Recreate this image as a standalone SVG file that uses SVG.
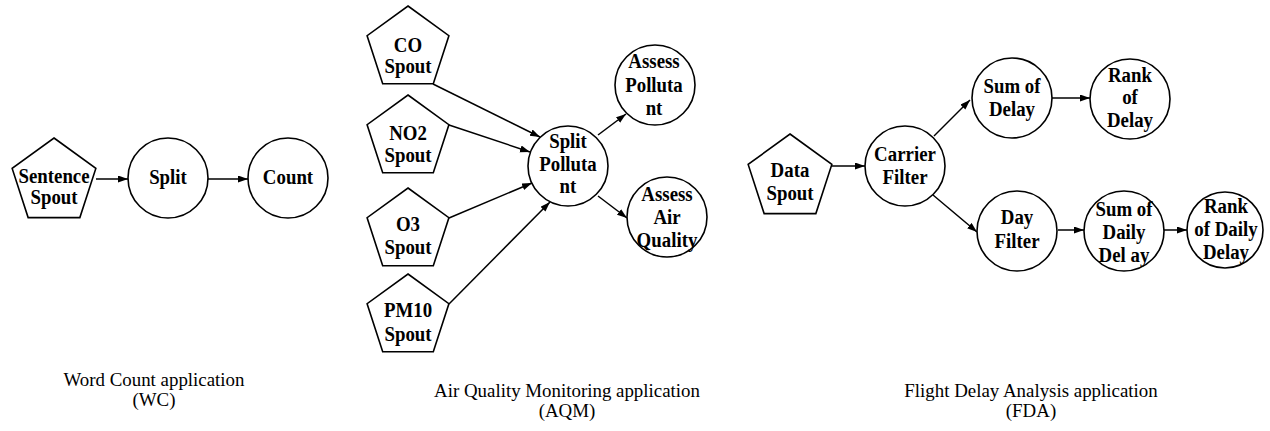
<svg xmlns="http://www.w3.org/2000/svg" width="1270" height="431" viewBox="0 0 1270 431">
<defs>
<marker id="ah" markerUnits="userSpaceOnUse" markerWidth="11" markerHeight="8" refX="10" refY="3.5" orient="auto">
<path d="M0,0 L10,3.5 L0,7 z" fill="#000"/>
</marker>
<style>
.shape{fill:#fff;stroke:#000;stroke-width:1.6}
.edge{fill:none;stroke:#000;stroke-width:1.5;marker-end:url(#ah)}
.lbl{font-family:"Liberation Serif","Times New Roman",serif;font-weight:bold;font-size:20.5px;text-anchor:middle;fill:#000;transform-box:fill-box;transform-origin:center;transform:scaleX(0.92)}
.cap{font-family:"Liberation Serif","Times New Roman",serif;font-size:18px;text-anchor:middle;fill:#000;transform-box:fill-box;transform-origin:center;transform:scaleX(1.05)}
</style>
</defs>
<rect width="1270" height="431" fill="#fff"/>

<g id="connectors">
<line class="edge" x1="96" y1="179" x2="128" y2="179"/>
<line class="edge" x1="208" y1="179" x2="248" y2="179"/>
<line class="edge" x1="433" y1="84" x2="540" y2="137"/>
<line class="edge" x1="449" y1="125" x2="530" y2="152"/>
<line class="edge" x1="449" y1="218" x2="532" y2="183"/>
<line class="edge" x1="449" y1="304" x2="550" y2="202"/>
<line class="edge" x1="598" y1="135" x2="626" y2="114"/>
<line class="edge" x1="598" y1="196" x2="627" y2="218"/>
<line class="edge" x1="832" y1="166" x2="865" y2="166"/>
<line class="edge" x1="934" y1="136" x2="970" y2="100"/>
<line class="edge" x1="933" y1="195" x2="977" y2="232"/>
<line class="edge" x1="1052" y1="98" x2="1090" y2="98"/>
<line class="edge" x1="1058" y1="230" x2="1084" y2="230"/>
<line class="edge" x1="1164" y1="230" x2="1187" y2="230"/>
</g>

<g id="wc-sentence-spout">
<polygon class="shape" points="54,138 95.85,168.4 79.86,217.6 28.14,217.6 12.15,168.4"/>
<text class="lbl" x="54" y="183">Sentence</text>
<text class="lbl" x="54" y="204">Spout</text>
</g>
<g id="wc-split">
<circle class="shape" cx="168" cy="178" r="40"/>
<text class="lbl" x="168" y="184">Split</text>
</g>
<g id="wc-count">
<circle class="shape" cx="288" cy="178" r="40"/>
<text class="lbl" x="288" y="184">Count</text>
</g>

<g id="aqm-co-spout">
<polygon class="shape" points="408,6 448.9,35.7 433.3,83.8 382.7,83.8 367.1,35.7"/>
<text class="lbl" x="408" y="52">CO</text>
<text class="lbl" x="408" y="73">Spout</text>
</g>
<g id="aqm-no2-spout">
<polygon class="shape" points="408,95 448.9,124.7 433.3,172.8 382.7,172.8 367.1,124.7"/>
<text class="lbl" x="408" y="140">NO2</text>
<text class="lbl" x="408" y="162">Spout</text>
</g>
<g id="aqm-o3-spout">
<polygon class="shape" points="408,188 448.9,217.7 433.3,265.8 382.7,265.8 367.1,217.7"/>
<text class="lbl" x="408" y="231">O3</text>
<text class="lbl" x="408" y="254">Spout</text>
</g>
<g id="aqm-pm10-spout">
<polygon class="shape" points="408,274 448.9,303.7 433.3,351.8 382.7,351.8 367.1,303.7"/>
<text class="lbl" x="408" y="317">PM10</text>
<text class="lbl" x="408" y="341">Spout</text>
</g>
<g id="aqm-split-pollutant">
<circle class="shape" cx="568" cy="166" r="40"/>
<text class="lbl" x="568" y="148">Split</text>
<text class="lbl" x="568" y="171">Polluta</text>
<text class="lbl" x="568" y="193">nt</text>
</g>
<g id="aqm-assess-pollutant">
<circle class="shape" cx="655" cy="85" r="40"/>
<text class="lbl" x="654" y="68">Assess</text>
<text class="lbl" x="654" y="92">Polluta</text>
<text class="lbl" x="654" y="115">nt</text>
</g>
<g id="aqm-assess-air-quality">
<circle class="shape" cx="667" cy="217" r="40"/>
<text class="lbl" x="667" y="201">Assess</text>
<text class="lbl" x="667" y="224">Air</text>
<text class="lbl" x="667" y="247">Quality</text>
</g>

<g id="fda-data-spout">
<polygon class="shape" points="790,134 831.85,164.4 815.86,213.6 764.14,213.6 748.15,164.4"/>
<text class="lbl" x="790" y="177">Data</text>
<text class="lbl" x="790" y="200">Spout</text>
</g>
<g id="fda-carrier-filter">
<circle class="shape" cx="905" cy="166" r="40"/>
<text class="lbl" x="905" y="161">Carrier</text>
<text class="lbl" x="905" y="184">Filter</text>
</g>
<g id="fda-sum-of-delay">
<circle class="shape" cx="1012" cy="98" r="40"/>
<text class="lbl" x="1012" y="93">Sum of</text>
<text class="lbl" x="1012" y="116">Delay</text>
</g>
<g id="fda-rank-of-delay">
<circle class="shape" cx="1130" cy="99" r="40"/>
<text class="lbl" x="1130" y="82">Rank</text>
<text class="lbl" x="1130" y="104">of</text>
<text class="lbl" x="1130" y="127">Delay</text>
</g>
<g id="fda-day-filter">
<circle class="shape" cx="1017" cy="231" r="40"/>
<text class="lbl" x="1017" y="224">Day</text>
<text class="lbl" x="1017" y="248">Filter</text>
</g>
<g id="fda-sum-of-daily-delay">
<circle class="shape" cx="1124" cy="231" r="40"/>
<text class="lbl" x="1124" y="216">Sum of</text>
<text class="lbl" x="1124" y="239">Daily</text>
<text class="lbl" x="1124" y="262">Del ay</text>
</g>
<g id="fda-rank-of-daily-delay">
<circle class="shape" cx="1225" cy="230" r="38"/>
<text class="lbl" x="1226" y="213">Rank</text>
<text class="lbl" x="1226" y="236">of Daily</text>
<text class="lbl" x="1226" y="259">Delay</text>
</g>

<g id="captions">
<text class="cap" x="154" y="386">Word Count application</text>
<text class="cap" x="154" y="406">(WC)</text>
<text class="cap" x="567" y="397">Air Quality Monitoring application</text>
<text class="cap" x="567" y="417">(AQM)</text>
<text class="cap" x="1031" y="397">Flight Delay Analysis application</text>
<text class="cap" x="1031" y="417">(FDA)</text>
</g>
</svg>
